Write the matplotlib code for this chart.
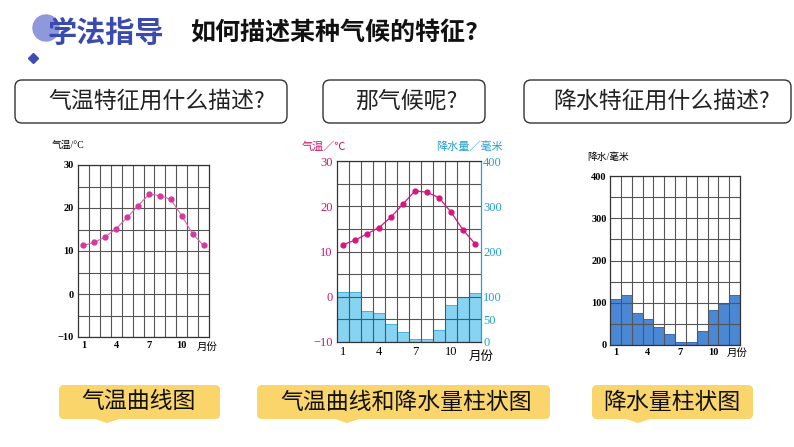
import matplotlib.pyplot as plt
from matplotlib.patches import FancyBboxPatch, Circle, Polygon

W, H = 794, 447
CJK = 'Noto Sans CJK SC'
SERIF = ['Liberation Serif', 'Noto Sans CJK SC']

# data
months = list(range(1, 13))
temp_a = [11.3, 12.0, 13.3, 15.2, 17.8, 20.5, 23.2, 22.9, 22.0, 18.2, 14.0, 11.3]
temp_b = [11.5, 12.5, 13.9, 15.3, 17.6, 20.5, 23.4, 23.1, 21.9, 18.7, 14.8, 11.7]
rain_b = [111, 111, 69, 65, 40, 23, 7, 7, 27, 82, 100, 109]
rain_c = [109, 118, 76, 61, 42, 25, 7, 8, 33, 82, 97, 118]
month_ticks = [1, 4, 7, 10]
temp_ticks = [-10, 0, 10, 20, 30]
rain_ticks_b = [0, 50, 100, 200, 300, 400]
rain_ticks_c = [0, 100, 200, 300, 400]

fig = plt.figure(figsize=(W / 100, H / 100), dpi=100)
bg = fig.add_axes([0, 0, 1, 1])
bg.set_xlim(0, W)
bg.set_ylim(H, 0)
bg.axis('off')


def px_axes(x0, y0, x1, y1):
    return fig.add_axes([x0 / W, 1 - y1 / H, (x1 - x0) / W, (y1 - y0) / H])


# header
bg.add_patch(Circle((46, 28), 13, color='#8e98da', zorder=1))
bg.text(47, 33, '学法指导', fontsize=21, fontweight='bold', color='#3a4aaf',
        family=CJK, va='center', ha='left', zorder=2)
bg.plot([33], [58], marker='D', ms=5, color='#3c4db3')
bg.text(190, 33, '如何描述某种气候的特征?', fontsize=18, fontweight='bold',
        color='#111111', family=CJK, va='center', ha='left')

# question boxes
for (x0, x1), txt, cx in [((15, 287), '气温特征用什么描述?', 157),
                          ((323, 485), '那气候呢?', 406),
                          ((524, 791), '降水特征用什么描述?', 662)]:
    bg.add_patch(FancyBboxPatch((x0, 80), x1 - x0, 43,
                                boxstyle='round,pad=0,rounding_size=7',
                                facecolor='white', edgecolor='#333333', lw=1))
    bg.text(cx, 101, txt, fontsize=16.5, color='#222222', family=CJK,
            ha='center', va='center')

# yellow labels
for (x0, x1), txt, cx, nx in [((59, 220), '气温曲线图', 139, 107),
                              ((257, 550), '气温曲线和降水量柱状图', 406, 347),
                              ((592, 753), '降水量柱状图', 672, 638)]:
    bg.add_patch(FancyBboxPatch((x0, 385), x1 - x0, 34,
                                boxstyle='round,pad=0,rounding_size=5',
                                facecolor='#f9d56c', edgecolor='none'))
    bg.add_patch(Polygon([(nx - 12, 419), (nx + 12, 419), (nx, 423)],
                         facecolor='#f9d56c', edgecolor='none'))
    bg.text(cx, 402, txt, fontsize=16.5, color='#111111', family=CJK,
            ha='center', va='center')

grid_kw = dict(color='#555555', lw=0.8)


def setup_grid(ax, ymin, ymax, ystep):
    ax.set_xlim(0.5, 12.5)
    ax.set_ylim(ymin, ymax)
    ax.set_xticks([m + 0.5 for m in months[:-1]], minor=True)
    ax.set_yticks(list(range(ymin, ymax + 1, ystep)), minor=True)
    ax.grid(True, which='minor', **grid_kw)
    ax.grid(True, which='major', axis='y', **grid_kw)
    ax.tick_params(which='both', length=0)
    for s in ax.spines.values():
        s.set_color('#333333')
        s.set_linewidth(0.9)


# chart 1: temperature
ax1 = px_axes(78, 165, 209, 337)
setup_grid(ax1, -10, 30, 5)
ax1.set_yticks(temp_ticks)
ax1.set_xticks(month_ticks)
ax1.tick_params(labelsize=7.5, pad=3)
for lab in ax1.get_xticklabels() + ax1.get_yticklabels():
    lab.set_family('Liberation Serif')
    lab.set_fontweight('bold')
ax1.plot(months, temp_a, color='#e660b0', lw=0.8, marker='o', ms=3.5,
         mfc='#d23a9c', mec='#d23a9c')
bg.text(52, 145, '气温/°C', fontsize=7, family=SERIF, va='center', ha='left')
bg.text(207, 347, '月份', fontsize=7.5, family=CJK, va='center', ha='center')

# chart 2: climate chart (bars on base axes, temperature on twin)
ax2 = px_axes(337, 161, 481, 342)
setup_grid(ax2, 0, 400, 50)
ax2.bar(months, rain_b, width=1.0, color='#86d3f2', edgecolor='#3aa6d8', lw=0.6)
ax2.set_xticks(month_ticks)
ax2.tick_params(axis='x', labelsize=9, pad=3)

ax2t = ax2.twinx()
ax2t.set_ylim(-10, 30)
ax2t.set_yticks(temp_ticks)
ax2t.yaxis.tick_left()
ax2t.tick_params(axis='y', length=0, labelsize=9, labelcolor='#c8186e', pad=3)
for s in ax2t.spines.values():
    s.set_visible(False)
ax2t.plot(months, temp_b, color='#d4177e', lw=0.9, marker='o', ms=3.5)

ax2.yaxis.tick_right()
ax2.set_yticks(rain_ticks_b)
ax2.tick_params(axis='y', length=0, labelsize=9, labelcolor='#1fa0d0', pad=1.5)
ax2.spines['right'].set_color('#1fa0d0')
for lab in ax2.get_xticklabels() + ax2.get_yticklabels() + ax2t.get_yticklabels():
    lab.set_family('Liberation Serif')
bg.text(302, 147, '气温／℃', fontsize=8, family=CJK, color='#c8186e',
        va='center', ha='left')
bg.text(503, 147, '降水量／毫米', fontsize=8, family=CJK, color='#1fa0d0',
        va='center', ha='right')
bg.text(481, 356, '月份', fontsize=9, family=CJK, va='center', ha='center')

# chart 3: precipitation
ax3 = px_axes(610, 176, 740, 345)
setup_grid(ax3, 0, 400, 50)
ax3.bar(months, rain_c, width=1.0, color='#4a87d4', edgecolor='#2a5ea8', lw=0.6)
ax3.set_yticks(rain_ticks_c)
ax3.set_xticks(month_ticks)
ax3.tick_params(labelsize=7.5, pad=2.5)
for lab in ax3.get_xticklabels() + ax3.get_yticklabels():
    lab.set_family('Liberation Serif')
    lab.set_fontweight('bold')
bg.text(587, 157, '降水/毫米', fontsize=7, family=SERIF, va='center', ha='left')
bg.text(737, 353, '月份', fontsize=7.5, family=CJK, va='center', ha='center')

fig.savefig('out.png', dpi=100)
